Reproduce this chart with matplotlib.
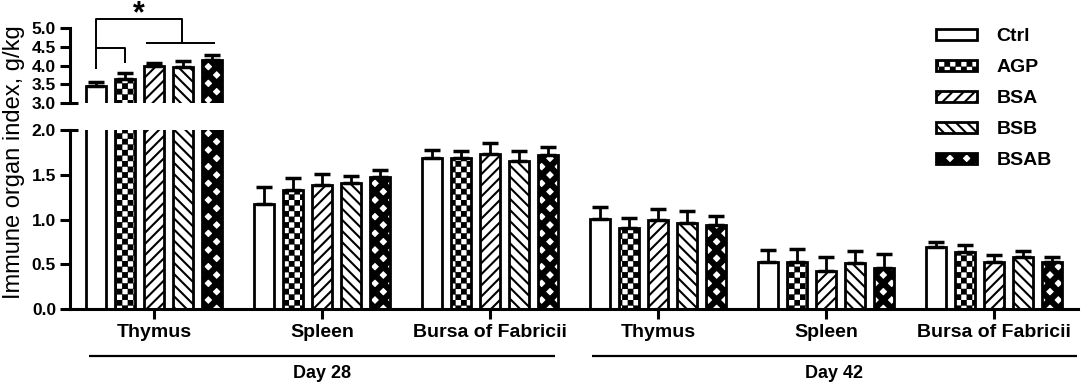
import numpy as np
import matplotlib
matplotlib.use("Agg")
import matplotlib.pyplot as plt
import matplotlib.hatch as mhatch
import matplotlib.transforms as mtrans
from matplotlib.path import Path
from matplotlib.ticker import FormatStrFormatter, MultipleLocator

# ---------------- data ----------------
organs = ["Thymus", "Spleen", "Bursa of Fabricii", "Thymus", "Spleen", "Bursa of Fabricii"]
days = ["Day 28", "Day 42"]
treatments = ["Ctrl", "AGP", "BSA", "BSB", "BSAB"]

ctrl_mean = [3.46, 1.17, 1.69, 1.01, 0.52, 0.69]
agp_mean = [3.65, 1.33, 1.69, 0.91, 0.52, 0.64]
bsa_mean = [3.98, 1.38, 1.73, 1.00, 0.42, 0.52]
bsb_mean = [3.96, 1.41, 1.65, 0.96, 0.51, 0.58]
bsab_mean = [4.14, 1.47, 1.72, 0.94, 0.46, 0.53]

ctrl_err = [0.11, 0.19, 0.09, 0.13, 0.14, 0.06]
agp_err = [0.15, 0.13, 0.07, 0.11, 0.15, 0.07]
bsa_err = [0.09, 0.13, 0.12, 0.12, 0.16, 0.08]
bsb_err = [0.15, 0.08, 0.11, 0.14, 0.14, 0.07]
bsab_err = [0.13, 0.08, 0.09, 0.10, 0.16, 0.05]

means = [ctrl_mean, agp_mean, bsa_mean, bsb_mean, bsab_mean]
errs = [ctrl_err, agp_err, bsa_err, bsb_err, bsab_err]

# significance bracket (upper panel, Day 28 thymus)
sig_label = "*"
sig_top = 5.24
sig_left_foot = 3.91
sig_right_foot = 4.59
sig_sub_left = -0.26
sig_sub_right = 2.1
sig_small_y = 4.47
sig_small_foot = 4.07
sig_star_y = 5.14

# ---------------- custom hatches ----------------
class CheckerHatch(mhatch.HatchPatternBase):
    def __init__(self, hatch, density):
        k = hatch.count("o")
        self.n = 18 * k
        if self.n:
            self.cells = [(i, j) for i in range(self.n) for j in range(self.n)
                          if (i + j) % 2 == 0]
            self.num_vertices = len(self.cells) * 5
        else:
            self.num_vertices = 0

    def set_vertices_and_codes(self, vertices, codes):
        s = 1.0 / self.n
        e = 0.009
        base = np.array([[e, e], [s - e, e], [s - e, s - e], [e, s - e], [e, e]])
        cc = [Path.MOVETO, Path.LINETO, Path.LINETO, Path.LINETO, Path.CLOSEPOLY]
        for idx, (i, j) in enumerate(self.cells):
            vertices[idx * 5:(idx + 1) * 5] = base + [i * s, j * s]
            codes[idx * 5:(idx + 1) * 5] = cc


class DiamondHatch(mhatch.HatchPatternBase):
    def __init__(self, hatch, density):
        k = hatch.count("O")
        self.m = 6 * k
        if self.m:
            self.kpos = list(range(-self.m - 2, self.m + 3))
            self.kneg = list(range(-2, 2 * self.m + 3))
            self.num_vertices = (len(self.kpos) + len(self.kneg)) * 5
        else:
            self.num_vertices = 0

    def set_vertices_and_codes(self, vertices, codes):
        d = 1.0 / self.m
        h = 0.029
        y0, y1 = -0.2, 1.2
        cc = [Path.MOVETO, Path.LINETO, Path.LINETO, Path.LINETO, Path.CLOSEPOLY]
        idx = 0
        for k in self.kpos:
            c = k * d
            poly = [[y0 - c - h, y0], [y0 - c + h, y0], [y1 - c + h, y1],
                    [y1 - c - h, y1], [y0 - c - h, y0]]
            vertices[idx:idx + 5] = poly
            codes[idx:idx + 5] = cc
            idx += 5
        for k in self.kneg:
            c = k * d
            poly = [[c - y0 - h, y0], [c - y0 + h, y0], [c - y1 + h, y1],
                    [c - y1 - h, y1], [c - y0 - h, y0]]
            vertices[idx:idx + 5] = poly
            codes[idx:idx + 5] = cc
            idx += 5


mhatch._hatch_types = [mhatch.HorizontalHatch, mhatch.VerticalHatch,
                       mhatch.NorthEastHatch, mhatch.SouthEastHatch,
                       CheckerHatch, DiamondHatch]

# ---------------- style ----------------
plt.rcParams["font.family"] = ["Liberation Sans", "DejaVu Sans"]
plt.rcParams["hatch.linewidth"] = 1.5
hatches = ["", "o", "///", "\\\\\\", "O"]

W, H = 1084, 387
fig = plt.figure(figsize=(W / 100, H / 100), dpi=100)
ax_lo = fig.add_axes([70 / W, (H - 309) / H, 1008 / W, 179 / H])
ax_hi = fig.add_axes([70 / W, (H - 103) / H, 1008 / W, 75 / H], sharex=ax_lo)

group_step = 5.8
centers = np.arange(len(organs)) * group_step
offsets = np.arange(len(treatments)) - 2
bar_w = 0.68
LW = 2.0

handles = []
for ax in (ax_lo, ax_hi):
    for t, name in enumerate(treatments):
        xs = centers + offsets[t]
        b = ax.bar(xs, means[t], width=bar_w, color="white", edgecolor="black",
                   linewidth=LW, hatch=hatches[t], label=name, zorder=2)
        ax.errorbar(xs, means[t], yerr=[np.zeros(len(errs[t])), errs[t]],
                    fmt="none", ecolor="black", elinewidth=2.0, capsize=5.5,
                    capthick=2.5, zorder=3)
        if ax is ax_lo:
            handles.append(b)

ax_lo.set_xlim(-2.9, centers[-1] + 2.9)
ax_lo.set_ylim(0, 2.0)
ax_hi.set_ylim(3.0, 5.0)

for ax in (ax_lo, ax_hi):
    ax.spines["top"].set_visible(False)
    ax.spines["right"].set_visible(False)
    ax.spines["left"].set_linewidth(2.2)
    ax.spines["bottom"].set_linewidth(2.2)
    ax.yaxis.set_major_locator(MultipleLocator(0.5))
    ax.yaxis.set_major_formatter(FormatStrFormatter("%.1f"))
    ax.tick_params(axis="y", direction="out", length=7, width=2.2, pad=3,
                   labelsize=12.5)
    for lab in ax.get_yticklabels():
        lab.set_fontweight("bold")
    # short horizontal stub at the break
    ax.plot([0, 8 / 1008], [1 if ax is ax_lo else 0] * 2, transform=ax.transAxes,
            color="black", lw=2.2, solid_capstyle="butt", clip_on=False)

ax_hi.spines["bottom"].set_visible(False)
ax_hi.tick_params(axis="x", which="both", bottom=False, labelbottom=False)

ax_lo.set_xticks(centers)
ax_lo.set_xticklabels(organs, fontsize=14, fontweight="bold")
ax_lo.tick_params(axis="x", direction="out", length=7, width=2.2, pad=4)

# day brackets under the axis
trans = mtrans.blended_transform_factory(ax_lo.transData, ax_lo.transAxes)
day_spans = [(-2.24, 13.84), (15.12, centers[-1] + 2.86)]
for (x0, x1), lab in zip(day_spans, days):
    ax_lo.plot([x0, x1], [-0.265, -0.265], transform=trans, color="black",
               lw=1.6, clip_on=False, solid_capstyle="butt")
    ax_lo.text((x0 + x1) / 2, -0.36, lab, transform=trans, ha="center",
               va="center", fontsize=13, fontweight="bold")

# significance brackets
lx = centers[0] + offsets[0]
kw = dict(color="black", lw=1.4, clip_on=False, solid_capstyle="butt")
ax_hi.plot([lx, lx, 0.95, 0.95], [sig_left_foot, sig_top, sig_top, sig_right_foot], **kw)
ax_hi.plot([sig_sub_left, sig_sub_right], [sig_right_foot, sig_right_foot], **kw)
ax_hi.plot([lx, centers[0] + offsets[1], centers[0] + offsets[1]],
           [sig_small_y, sig_small_y, sig_small_foot], **kw)
ax_hi.text((lx + 0.95) / 2, sig_star_y, sig_label, ha="center", va="baseline",
           fontsize=22, fontweight="bold", clip_on=False)

# y label
fig.text(14.5 / W, (H - 162) / H, "Immune organ index, g/kg", rotation=90,
         ha="center", va="center", fontsize=17)

# legend
fig.legend(handles, treatments, loc="upper left",
           bbox_to_anchor=(936 / W, (H - 28) / H), frameon=False,
           prop=dict(size=14, weight="bold"), handlelength=2.1,
           handleheight=0.5, handletextpad=1.0, labelspacing=0.72,
           borderpad=0, borderaxespad=0)

fig.savefig("out.png", dpi=100)
